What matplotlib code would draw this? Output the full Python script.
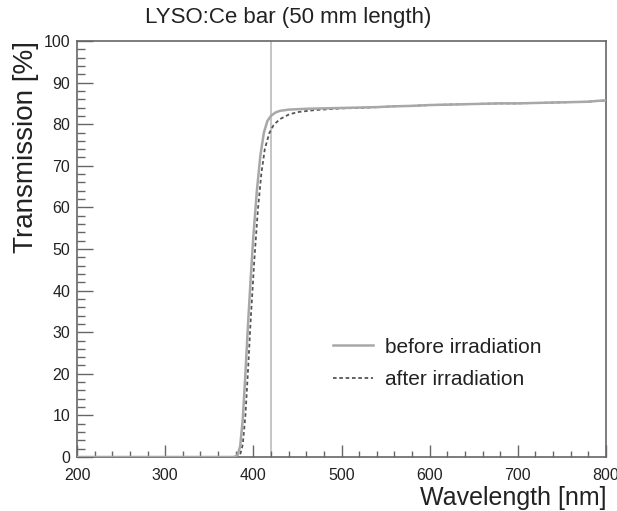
import numpy as np
import matplotlib.pyplot as plt
from matplotlib.ticker import MultipleLocator

plt.rcParams['font.family'] = ['Liberation Sans', 'DejaVu Sans']

# Transmission data (wavelength in nm, transmission in %)
wl_before = [200, 300, 378, 382, 385, 388, 391, 394, 397, 400, 404, 408, 412, 416, 420,
             425, 430, 440, 450, 460, 480, 500, 520, 540, 560, 580, 600,
             620, 640, 660, 680, 700, 720, 740, 760, 780, 790, 800]
tr_before = [0, 0, 0, 0.4, 2.5, 9, 20, 32, 43, 53, 64, 72.5, 78, 80.8, 82.0,
             82.8, 83.2, 83.5, 83.6, 83.7, 83.8, 83.9, 84.0, 84.1, 84.3, 84.4, 84.6,
             84.7, 84.8, 84.9, 85.0, 85.0, 85.1, 85.2, 85.3, 85.4, 85.6, 85.7]

wl_after = [200, 300, 381, 385, 388, 391, 394, 397, 401, 405, 409, 413, 418,
            423, 430, 440, 450, 470, 500, 520, 540, 560, 580, 600,
            620, 640, 660, 680, 700, 720, 740, 760, 780, 790, 800]
tr_after = [0, 0, 0, 0.5, 3, 10, 21, 33, 47, 59, 68, 74, 77.8,
            79.8, 81.2, 82.3, 82.9, 83.4, 83.8, 83.9, 84.1, 84.3, 84.4, 84.6,
            84.7, 84.8, 84.9, 85.0, 85.0, 85.1, 85.2, 85.3, 85.4, 85.6, 85.7]

cut_wl = 420

fig = plt.figure(figsize=(6.17, 5.11), dpi=100)
ax = fig.add_axes([0.1248, 0.1057, 0.8574, 0.8141])

ax.axvline(cut_wl, color='#bbbbbb', lw=1.2, zorder=1)
ax.plot(wl_before, tr_before, color='#a8a8a8', lw=1.8, label='before irradiation', zorder=3)
ax.plot(wl_after, tr_after, color='#555555', lw=1.3, ls=(0, (2, 1.5)),
        label='after irradiation', zorder=2)

ax.set_xlim(200, 800)
ax.set_ylim(0, 100)
ax.xaxis.set_major_locator(MultipleLocator(100))
ax.xaxis.set_minor_locator(MultipleLocator(20))
ax.yaxis.set_major_locator(MultipleLocator(10))
ax.yaxis.set_minor_locator(MultipleLocator(2))
ax.tick_params(which='both', direction='in', top=False, right=False,
               color='#666666', width=1, labelsize=11.5, labelcolor='#222222')
ax.tick_params(axis='x', which='major', length=8.6, pad=8)
ax.tick_params(axis='x', which='minor', length=4.3)
ax.tick_params(axis='y', which='major', length=11.5, pad=5)
ax.tick_params(axis='y', which='minor', length=5.5)
for s in ax.spines.values():
    s.set_color('#666666')
    s.set_linewidth(1.2)

ax.set_xlabel('Wavelength [nm]', fontsize=18, color='#222222')
ax.xaxis.set_label_coords(1.0, -0.098)
ax.xaxis.label.set_ha('right')
ax.xaxis.label.set_va('center')
ax.set_ylabel('Transmission [%]', fontsize=20, loc='top', color='#222222', labelpad=3)
fig.text(0.467, 0.965, 'LYSO:Ce bar (50 mm length)', fontsize=16, color='#222222',
         ha='center', va='center')

ax.legend(loc='upper left', bbox_to_anchor=(0.484, 0.287), frameon=False,
          fontsize=15, handlelength=1.9, handletextpad=0.6, labelspacing=0.65,
          borderpad=0, borderaxespad=0, labelcolor='#222222')

fig.savefig('out.png', dpi=100)
